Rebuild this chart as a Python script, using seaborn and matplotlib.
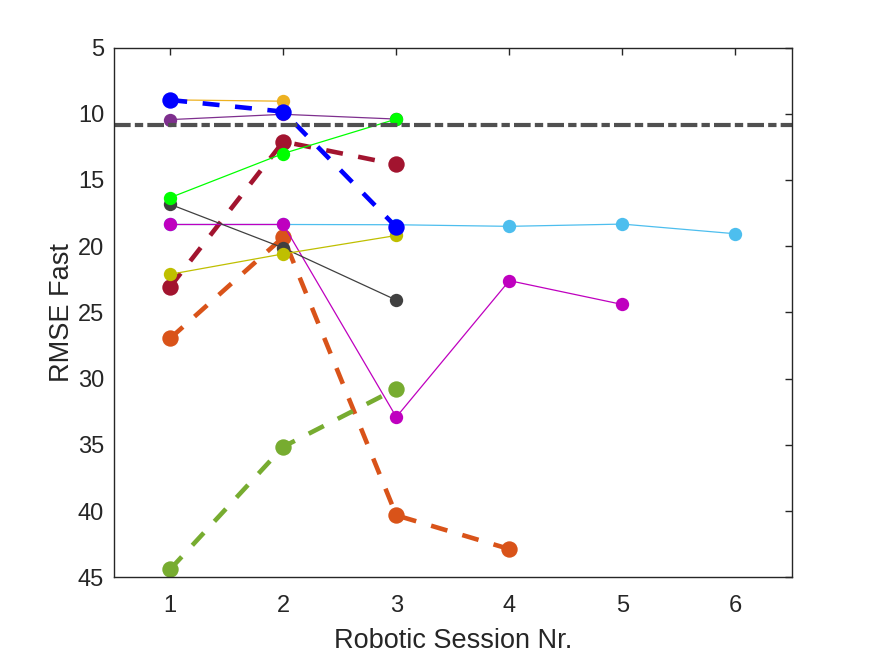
import numpy as np
import pandas as pd
import matplotlib
matplotlib.use("Agg")
import matplotlib.pyplot as plt
import seaborn as sns

# values (RMSE per robotic session)
sess_lightblue = [1, 2, 3, 4, 5, 6]
rmse_lightblue = [18.36, 18.36, 18.38, 18.5, 18.33, 19.06]

sess_orangered = [1, 2, 3, 4]
rmse_orangered = [26.95, 19.32, 40.32, 42.87]

sess_darkred = [1, 2, 3]
rmse_darkred = [23.06, 12.1, 13.83]

sess_magenta = [1, 2, 3, 4, 5]
rmse_magenta = [18.36, 18.36, 32.9, 22.6, 24.4]

sess_darkgray = [1, 2, 3]
rmse_darkgray = [16.84, 20.13, 24.07]

sess_olive = [1, 2, 3]
rmse_olive = [22.12, 20.58, 19.19]

sess_greendash = [1, 2, 3]
rmse_greendash = [44.39, 35.14, 30.77]

sess_orange = [1, 2]
rmse_orange = [8.95, 9.05]

sess_purple = [1, 2, 3]
rmse_purple = [10.44, 10.04, 10.4]

sess_green = [1, 2, 3]
rmse_green = [16.33, 13.0, 10.4]

sess_blue = [1, 2, 3]
rmse_blue = [8.96, 9.84, 18.56]

threshold = 10.83


def draw(ax, x, y, color, thick):
    if thick:
        sns.lineplot(x=x, y=y, ax=ax, color=color, lw=3.3, linestyle=(0, (3.7, 3.4)),
                     marker="o", markersize=11.8, markeredgewidth=0, sort=False)
    else:
        sns.lineplot(x=x, y=y, ax=ax, color=color, lw=0.9,
                     marker="o", markersize=9.6, markeredgewidth=0, sort=False)


def main():
    sns.set_style("white")
    plt.rcParams["font.family"] = ["Liberation Sans", "DejaVu Sans"]

    fig = plt.figure(figsize=(8.75, 6.56), dpi=100)
    ax = fig.add_axes([0.13, 0.12, 0.775, 0.8075])

    draw(ax, sess_lightblue, rmse_lightblue, "#4DBEEE", False)
    draw(ax, sess_orangered, rmse_orangered, "#D95319", True)
    draw(ax, sess_darkred, rmse_darkred, "#A2142F", True)
    draw(ax, sess_magenta, rmse_magenta, "#BF00BF", False)
    draw(ax, sess_darkgray, rmse_darkgray, "#404040", False)
    draw(ax, sess_olive, rmse_olive, "#BFBF00", False)
    draw(ax, sess_greendash, rmse_greendash, "#77AC30", True)
    draw(ax, sess_orange, rmse_orange, "#EDB120", False)
    draw(ax, sess_purple, rmse_purple, "#7E2F8E", False)
    draw(ax, sess_green, rmse_green, "#00FF00", False)
    draw(ax, sess_blue, rmse_blue, "#0000FF", True)

    ax.axhline(threshold, color="#505050", lw=3.0, linestyle=(0, (4, 1, 2, 1)))

    ax.set_xlim(0.5, 6.5)
    ax.set_ylim(45, 5)
    ax.set_xticks([1, 2, 3, 4, 5, 6])
    ax.set_yticks(np.arange(5, 50, 5))
    ax.tick_params(direction="in", length=5, width=1.0, top=True, right=True,
                   labelsize=17, colors="#262626")
    ax.tick_params(axis="x", pad=13)
    ax.tick_params(axis="y", pad=7)
    for s in ax.spines.values():
        s.set_color("#262626")
        s.set_linewidth(1.0)

    ax.set_xlabel("Robotic Session Nr.", fontsize=19.5, color="#262626", labelpad=8)
    ax.set_ylabel("RMSE Fast", fontsize=19.5, color="#262626", labelpad=2)

    fig.savefig("out.png", dpi=100)
    plt.close(fig)


if __name__ == "__main__":
    main()
